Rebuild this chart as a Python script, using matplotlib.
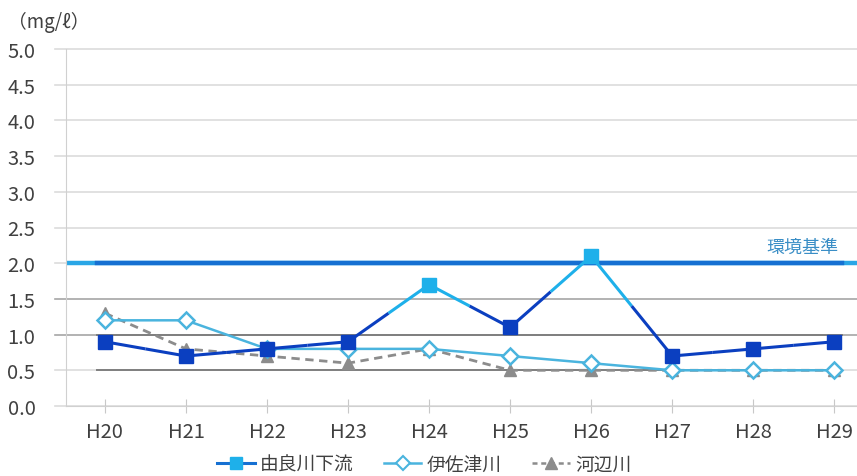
import numpy as np
import matplotlib.pyplot as plt
from matplotlib.lines import Line2D

plt.rcParams['font.family'] = ['Noto Sans CJK JP', 'DejaVu Sans']

years = ['H20', 'H21', 'H22', 'H23', 'H24', 'H25', 'H26', 'H27', 'H28', 'H29']
yura = [0.9, 0.7, 0.8, 0.9, 1.7, 1.1, 2.1, 0.7, 0.8, 0.9]
isatsu = [1.2, 1.2, 0.8, 0.8, 0.8, 0.7, 0.6, 0.5, 0.5, 0.5]
kabe = [1.3, 0.8, 0.7, 0.6, 0.8, 0.5, 0.5, 0.5, 0.5, 0.5]
standard = 2.0
names = ['由良川下流', '伊佐津川', '河辺川']

dark = '#0b3fc0'
light = '#1eb0ea'
yura_cols = [light if v > 1.5 else dark for v in yura]

fig = plt.figure(figsize=(8.57, 4.77), dpi=100)
ax = fig.add_axes([66/857, 70/477, 1 - 66/857, 357/477])
x = np.arange(len(years))
ax.set_xlim(-0.48, 9.28)
ax.set_ylim(0, 5)

# grid
for v in np.arange(0, 5.01, 0.5):
    c = '#a6a6a6' if v in (1.0, 1.5) else '#dcdcdc'
    ax.axhline(v, color=c, lw=1.2, zorder=0, clip_on=False, xmin=-0.014)
for v in (0.5, 1.0):
    ax.plot([-0.1, 9.1], [v, v], color='#7f7f7f', lw=1.4, zorder=1)

# environmental standard
ax.plot([-0.48, 9.28], [standard, standard], color='#2aa6e6', lw=3.2, zorder=2)
ax.plot([-0.1, 9.1], [standard, standard], color='#1670d2', lw=3.2, zorder=2)
ax.text(8.6, standard + 0.1, '環境基準', color='#3a8ec6', fontsize=13,
        ha='center', va='bottom')

# 河辺川
ax.plot(x, kabe, color='#8c8c8c', lw=2, ls=(0, (3, 2)), marker='^',
        ms=9, mfc='#8c8c8c', mec='#8c8c8c', zorder=3)
# 伊佐津川
ax.plot(x, isatsu, color='#4ab4de', lw=1.8, marker='D', ms=8,
        mfc='white', mec='#4ab4de', mew=1.8, zorder=4)
# 由良川下流: segment colours blend between points
for i in range(len(x) - 1):
    xm = (x[i] + x[i + 1]) / 2
    ym = (yura[i] + yura[i + 1]) / 2
    ax.plot([x[i], xm], [yura[i], ym], color=yura_cols[i], lw=2.2,
            solid_capstyle='butt', zorder=5)
    ax.plot([xm, x[i + 1]], [ym, yura[i + 1]], color=yura_cols[i + 1], lw=2.2,
            solid_capstyle='butt', zorder=5)
for xi, yi, c in zip(x, yura, yura_cols):
    ax.plot(xi, yi, marker='s', ms=10, color=c, zorder=6)

for s in ('top', 'right'):
    ax.spines[s].set_visible(False)
ax.spines['left'].set_color('#d0d0d0')
ax.spines['bottom'].set_color('#d0d0d0')
ax.set_xticks(x)
ax.set_xticklabels(years)
ax.set_yticks(np.arange(0, 5.01, 0.5))
ax.set_yticklabels([f'{v:.1f}' for v in np.arange(0, 5.01, 0.5)])
ax.tick_params(axis='x', direction='inout', length=10, color='#c8c8c8',
               labelsize=14.5, labelcolor='#404040', pad=6)
ax.tick_params(axis='y', length=0, labelsize=14.5, labelcolor='#404040', pad=22)

fig.text(8/857, 1 - 22/477, '（mg/ℓ）', fontsize=13.5, color='#404040',
         va='center', ha='left')

handles = [
    Line2D([], [], color='#1670d2', lw=2.2, marker='s', ms=9, mfc=light, mec=light),
    Line2D([], [], color='#4ab4de', lw=1.8, marker='D', ms=7, mfc='white',
           mec='#4ab4de', mew=1.5),
    Line2D([], [], color='#8c8c8c', lw=1.8, ls=(0, (2, 1.5)), marker='^', ms=8),
]
fig.legend(handles, names, loc='center', bbox_to_anchor=(0.495, 1 - 465/477),
           ncol=3, frameon=False, fontsize=13.5, handlelength=2.0,
           columnspacing=1.6, handletextpad=0.3, labelcolor='#404040')

fig.savefig('out.png', dpi=100)
